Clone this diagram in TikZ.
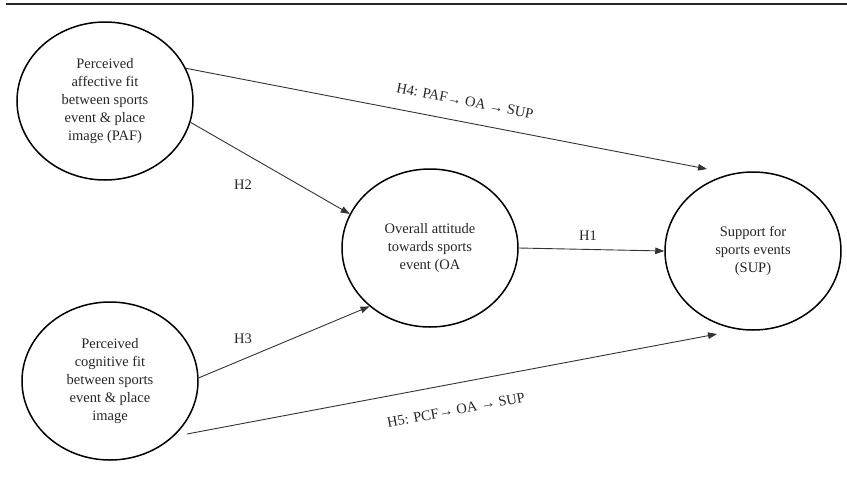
\documentclass[tikz,border=0pt]{standalone}
\usepackage{fontspec}
\setmainfont{Liberation Serif}
\usetikzlibrary{shapes.geometric,arrows.meta}
\begin{document}
\begin{tikzpicture}[x=1pt,y=-1pt,
  construct/.style={ellipse,draw=black,line width=1.5pt,minimum width=176pt,minimum height=158pt,inner sep=0pt,align=center,text=black!85,font=\fontsize{14.5pt}{17.8pt}\selectfont},
  link/.style={draw=black!80,line width=0.9pt,-{Triangle[length=9pt,width=6.5pt]}},
  hlabel/.style={text=black!85,font=\fontsize{14.5pt}{17.8pt}\selectfont,inner sep=0pt}]
\useasboundingbox (0,0) rectangle (847,480);
\coordinate (ruleL) at (6,4);
\coordinate (ruleR) at (847,4);
\draw[line width=1.6pt,black!85] (ruleL) -- (ruleR);

\node[construct] (paf) at (105,101) {Perceived\\affective fit\\between sports\\event \& place\\image (PAF)};
\node[construct] (pcf) at (110,381) {Perceived\\cognitive fit\\between sports\\event \& place\\image};
\node[construct] (oa) at (430,248) {Overall attitude\\towards sports\\event (OA};
\node[construct] (sup) at (753,251) {Support for\\sports events\\(SUP)};

\coordinate (h4end) at (707,169);
\coordinate (h5start) at (187,434);
\coordinate (h5end) at (717,334);

\draw[link] (paf.22.3) -- (h4end);
\draw[link] (paf.-14.8) -- (oa.157.6);
\draw[link] (pcf.2) -- (oa.-136.9);
\draw[link] (h5start) -- (h5end);
\draw[link] (oa.east) -- (sup.west);

\node[hlabel] (h1) at (588,236) {H1};
\node[hlabel] (h2) at (243,185) {H2};
\node[hlabel] (h3) at (243,339) {H3};
\node[hlabel,rotate=-11.1] (h4) at (465,101) {H4: PAF→ OA → SUP};
\node[hlabel,rotate=10.7] (h5) at (456,410) {H5: PCF→ OA → SUP};
\end{tikzpicture}
\end{document}
